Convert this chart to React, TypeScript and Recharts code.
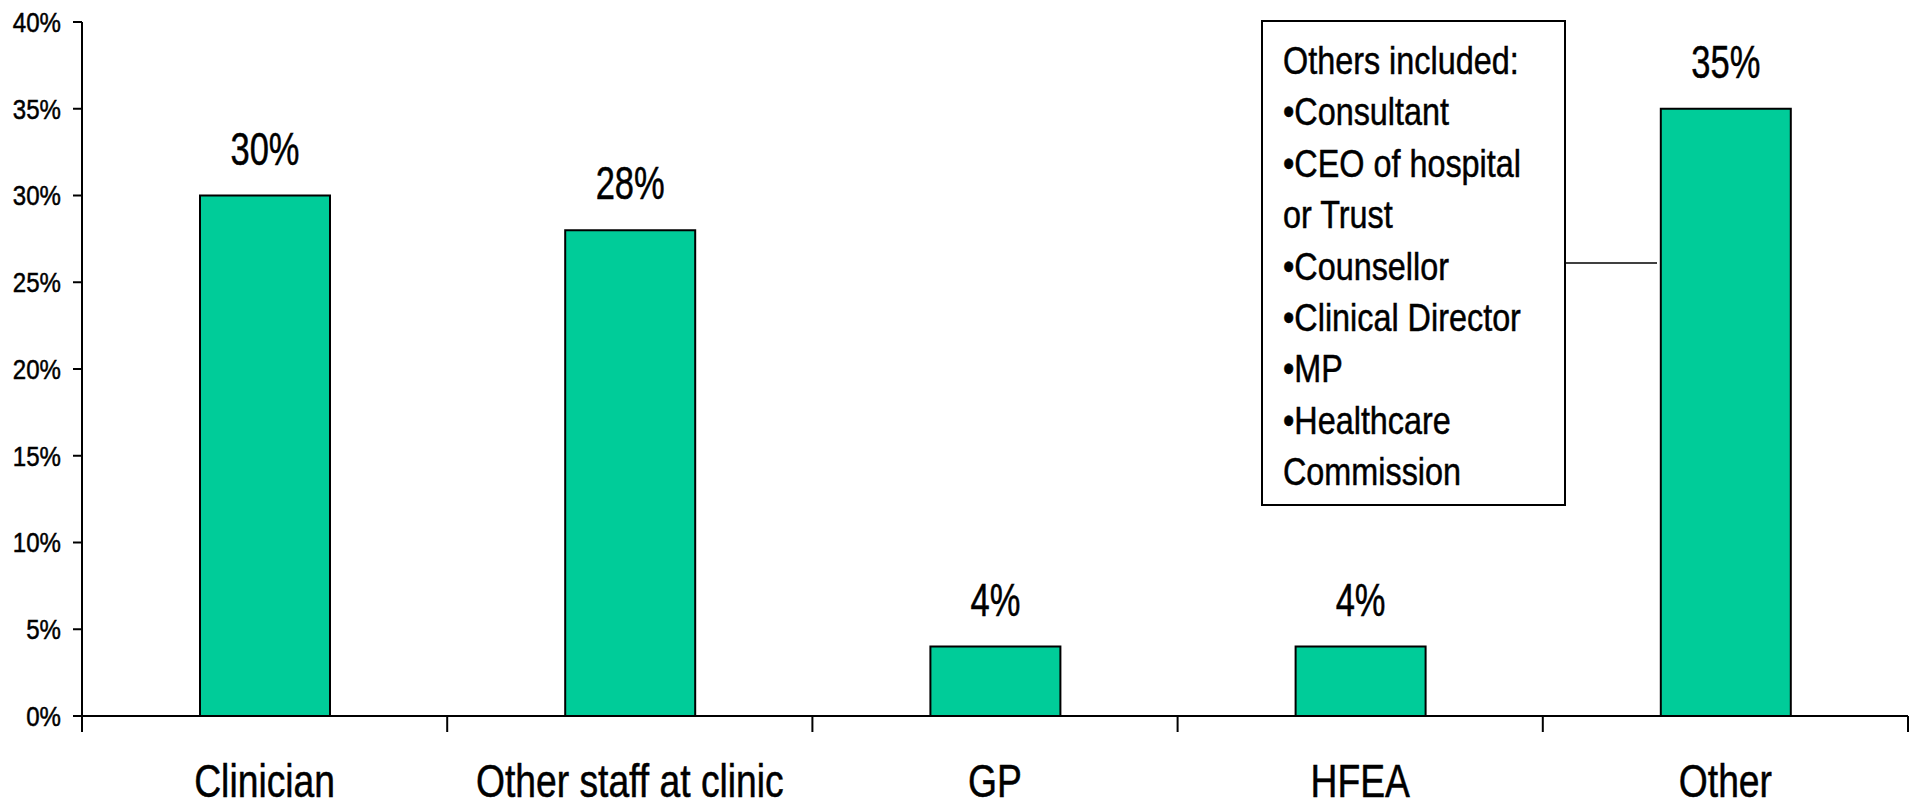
import React from "react";
import { BarChart, Bar, XAxis, YAxis, LabelList, Customized } from "recharts";

const categories = ["Clinician", "Other staff at clinic", "GP", "HFEA", "Other"];
const shares = [30, 28, 4, 4, 35];
const yTicks = [0, 5, 10, 15, 20, 25, 30, 35, 40];
const otherNotes = [
  "Others included:",
  "•Consultant",
  "•CEO of hospital",
  "or Trust",
  "•Counsellor",
  "•Clinical Director",
  "•MP",
  "•Healthcare",
  "Commission",
];

const data = categories.map((name, i) => ({ name, share: shares[i] }));

const W = 1915;
const H = 807;
const Y_AXIS_W = 82;
const RIGHT = 7;
const PLOT_W = W - Y_AXIS_W - RIGHT;
const FONT = "'Liberation Sans', Arial, sans-serif";
const BAR_FILL = "#00CC99";

// no narrow font installed, so squeeze a regular one sideways
// (thin stroke makes up for the stems getting thinner)
function NarrowText({ x, y, sx, size, anchor = "start", dy, children }: any) {
  return (
    <g transform={`translate(${x}, ${y}) scale(${sx}, 1)`}>
      <text
        x={0}
        y={0}
        dy={dy}
        textAnchor={anchor}
        fontFamily={FONT}
        fontSize={size}
        fill="#000"
        stroke="#000"
        strokeWidth={0.5}
      >
        {children}
      </text>
    </g>
  );
}

function CategoryTick(props: any) {
  const { x, y, payload, index } = props;
  const half = PLOT_W / categories.length / 2;
  return (
    <g>
      <line x1={x - half} x2={x - half} y1={y - 16} y2={y} stroke="#000" strokeWidth={2} />
      {index === categories.length - 1 && (
        <line x1={x + half} x2={x + half} y1={y - 16} y2={y} stroke="#000" strokeWidth={2} />
      )}
      <NarrowText x={x} y={y + 65} sx={0.81} size={46} anchor="middle">
        {payload.value}
      </NarrowText>
    </g>
  );
}

function PercentTick(props: any) {
  const { x, y, payload } = props;
  return (
    <NarrowText x={x} y={y} sx={0.86} size={28} anchor="end" dy="0.355em">
      {`${payload.value}%`}
    </NarrowText>
  );
}

function ValueLabel(props: any) {
  const { x, y, width, value } = props;
  return (
    <NarrowText x={x + width / 2} y={y - 31} sx={0.75} size={46} anchor="middle">
      {`${value}%`}
    </NarrowText>
  );
}

// callout box listing what "Other" covered
function OthersCallout() {
  const boxX = 1262;
  const boxY = 21;
  const boxW = 303;
  return (
    <g>
      <rect x={boxX} y={boxY} width={boxW} height={484} fill="#fff" stroke="#000" strokeWidth={2} />
      <line x1={boxX + boxW} x2={1657} y1={263} y2={263} stroke="#000" strokeWidth={1.5} />
      {otherNotes.map((t, i) => (
        <NarrowText key={t} x={boxX + 21} y={74 + i * 51.4} sx={0.83} size={39}>
          {t}
        </NarrowText>
      ))}
    </g>
  );
}

export default function App() {
  return (
    <div style={{ position: "absolute", left: 0, top: 0, width: W, height: H, background: "#fff" }}>
      <BarChart
        width={W}
        height={H}
        data={data}
        margin={{ top: 22, right: RIGHT, bottom: 0, left: 0 }}
        barSize={130}
      >
        <XAxis
          dataKey="name"
          height={91}
          axisLine={{ stroke: "#000", strokeWidth: 2 }}
          tickLine={false}
          tickSize={16}
          tickMargin={0}
          interval={0}
          tick={<CategoryTick />}
        />
        <YAxis
          width={Y_AXIS_W}
          domain={[0, 40]}
          ticks={yTicks}
          interval={0}
          axisLine={{ stroke: "#000", strokeWidth: 2 }}
          tickLine={{ stroke: "#000", strokeWidth: 2 }}
          tickSize={9}
          tickMargin={12}
          tick={<PercentTick />}
        />
        <Bar dataKey="share" fill={BAR_FILL} stroke="#000" strokeWidth={2} isAnimationActive={false}>
          <LabelList dataKey="share" content={<ValueLabel />} />
        </Bar>
        <Customized component={OthersCallout} />
      </BarChart>
    </div>
  );
}
